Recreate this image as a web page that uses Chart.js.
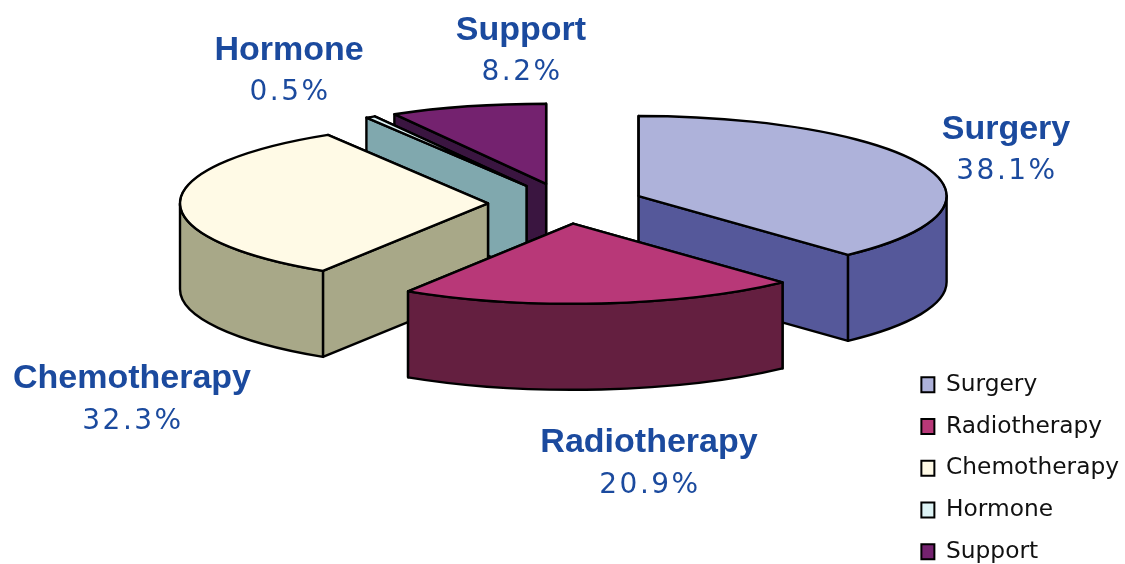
<!DOCTYPE html>
<html>
<head>
<meta charset="utf-8">
<style>html,body{margin:0;padding:0;background:#fff}canvas{display:block;filter:blur(0.4px)}</style>
<script src="https://cdn.jsdelivr.net/npm/chart.js@4"></script>
</head>
<body>
<canvas id="c" width="1125" height="564"></canvas>
<script>
const categories = ['Surgery', 'Radiotherapy', 'Chemotherapy', 'Hormone', 'Support'];
const shares = [38.1, 20.9, 32.3, 0.5, 8.2];
const topColors = ['#AEB2DA', '#B83878', '#FFFAE6', '#DDF3F5', '#74226F'];
const sideColors = ['#55589A', '#641F40', '#A8A888', '#80A8AE', '#3A1540'];
const paintOrder = [4, 3, 0, 2, 1];
const labelSpots = [[1006, 139, 1007, 179], [649, 452, 650, 493], [132, 388, 133, 429], [289, 60, 290, 100], [521, 40, 522, 80]];

const CX = 566, CY = 203.5, SQUASH = 0.26, DEPTH = 86, EXPLODE = 78, INK = '#000';

const pie3d = {
  id: 'pie3d',
  afterLayout(chart) {
    const lg = chart.legend;
    lg.left += 4;
    lg.right += 4;
    lg.top += 18;
    lg.bottom += 18;
  },
  beforeDatasetsDraw(chart) {
    const ctx = chart.ctx;
    const arcs = chart.getDatasetMeta(0).data;
    paintOrder.forEach(i => {
      const a = arcs[i];
      const mid = (a.startAngle + a.endAngle) / 2;
      const ox = CX + Math.cos(mid) * EXPLODE;
      const oy = CY + Math.sin(mid) * EXPLODE * SQUASH;
      const px = t => ox + Math.cos(t) * a.outerRadius;
      const py = t => oy + Math.sin(t) * a.outerRadius * SQUASH;
      const trace = (dy, from, to, ccw) => ctx.ellipse(ox, oy + dy, a.outerRadius, a.outerRadius * SQUASH, 0, from, to, ccw);
      ctx.save();
      ctx.lineWidth = 2.4;
      ctx.lineJoin = 'round';
      ctx.strokeStyle = INK;
      ctx.fillStyle = sideColors[i];
      [a.startAngle, a.endAngle].sort((p, q) => py(p) - py(q)).forEach(t => {
        ctx.beginPath();
        ctx.moveTo(ox, oy);
        ctx.lineTo(px(t), py(t));
        ctx.lineTo(px(t), py(t) + DEPTH);
        ctx.lineTo(ox, oy + DEPTH);
        ctx.closePath();
        ctx.fill();
        ctx.stroke();
      });
      const lo = Math.max(a.startAngle, 0);
      const hi = Math.min(a.endAngle, Math.PI);
      if (hi > lo) {
        ctx.beginPath();
        trace(0, lo, hi, false);
        trace(DEPTH, hi, lo, true);
        ctx.closePath();
        ctx.fill();
        ctx.stroke();
      }
      ctx.restore();

      ctx.save();
      ctx.translate(ox, oy);
      ctx.scale(1, SQUASH);
      ctx.translate(-a.x, -a.y);
      a.draw(ctx);
      ctx.restore();

      ctx.save();
      ctx.lineWidth = 2.4;
      ctx.lineJoin = 'round';
      ctx.strokeStyle = INK;
      ctx.beginPath();
      ctx.moveTo(ox, oy);
      trace(0, a.startAngle, a.endAngle, false);
      ctx.closePath();
      ctx.stroke();
      ctx.restore();
    });
    return false;
  },
  afterDraw(chart) {
    const ctx = chart.ctx;
    ctx.save();
    ctx.textAlign = 'center';
    ctx.textBaseline = 'alphabetic';
    ctx.fillStyle = '#1B4A9E';
    categories.forEach((name, i) => {
      const s = labelSpots[i];
      ctx.font = 'bold 34px "Liberation Sans"';
      ctx.letterSpacing = '0px';
      ctx.fillText(name, s[0], s[1]);
      ctx.font = '28px "DejaVu Sans"';
      ctx.letterSpacing = '2.5px';
      ctx.fillText(shares[i].toFixed(1) + '%', s[2], s[3]);
    });
    ctx.restore();
  }
};

new Chart(document.getElementById('c'), {
  type: 'pie',
  data: {
    labels: categories,
    datasets: [{
      data: shares,
      backgroundColor: topColors,
      borderColor: INK,
      borderWidth: 2,
      radius: 308,
      clip: false
    }]
  },
  options: {
    responsive: false,
    animation: false,
    devicePixelRatio: 1,
    events: [],
    layout: { padding: 0 },
    plugins: {
      tooltip: { enabled: false },
      legend: {
        position: 'right',
        align: 'end',
        labels: {
          boxWidth: 13,
          boxHeight: 15,
          padding: 18.5,
          color: '#111',
          font: { family: '"DejaVu Sans"', size: 23.3 }
        }
      }
    }
  },
  plugins: [pie3d]
});
</script>
</body>
</html>
